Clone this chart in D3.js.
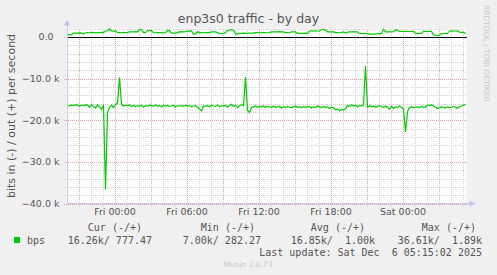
<!DOCTYPE html>
<html>
<head>
<meta charset="utf-8">
<script src="https://cdn.jsdelivr.net/npm/d3@7"></script>
<style>
  body { margin: 0; background: #f0f0f0; }
  svg { display: block; }
</style>
</head>
<body>
<div id="canvas"></div>
<script>
var title = 'enp3s0 traffic - by day'
var yLabel = 'bits in (-) / out (+) per second'
var watermark = 'RRDTOOL / TOBI OETIKER'
var footer = 'Munin 2.0.73'

// samples every 10 minutes, first one Thu 4 Dec 2025 20:05 UTC
var startTime = Date.UTC(2025, 11, 4, 20, 5)
var stepMinutes = 10

// incoming traffic (drawn below zero), in kbit/s
var inK = [
  16.6, 16.5, 16.4, 16.5, 16.3, 16.4, 16.6, 16.4, 16.5, 16.3,
  16.4, 16.9, 16.2, 16.7, 17.1, 16.3, 16.8, 17.4, 16.5, 36.61,
  18.2, 16.9, 16.4, 17.0, 16.3, 15.9, 9.75, 16.2, 16.6, 16.4,
  16.5, 16.3, 16.7, 16.4, 16.8, 16.5, 16.6, 16.4, 16.9, 16.5,
  16.6, 16.4, 16.5, 16.7, 16.3, 16.6, 16.5, 16.8, 16.4, 16.6,
  16.5, 16.7, 16.6, 16.4, 16.9, 16.5, 16.6, 16.5, 16.7, 16.4,
  16.6, 16.5, 16.8, 16.6, 16.5, 16.9, 17.3, 17.8, 16.6, 16.7,
  16.5, 16.8, 16.4, 16.6, 16.7, 16.3, 16.8, 16.5, 16.6, 16.4,
  16.9, 16.5, 16.2, 16.7, 16.4, 17.0, 16.6, 16.3, 16.5, 9.65,
  17.6, 18.2, 17.0, 16.8, 16.6, 16.9, 16.7, 16.8, 16.6, 16.9,
  16.7, 16.8, 17.0, 16.6, 16.9, 16.8, 16.7, 17.1, 16.8, 16.9,
  16.7, 16.9, 17.0, 16.8, 16.6, 16.9, 16.8, 17.0, 16.7, 16.9,
  16.8, 16.7, 17.1, 16.8, 16.9, 16.6, 16.8, 17.0, 16.7, 16.9,
  16.8, 17.2, 16.9, 17.0, 17.5, 17.3, 17.8, 17.4, 17.6, 17.2,
  16.5, 16.7, 16.3, 16.6, 16.4, 16.8, 16.5, 16.6, 16.3, 7.00,
  16.9, 16.5, 16.8, 16.6, 16.9, 16.7, 16.5, 16.8, 17.0, 16.6,
  16.9, 17.4, 16.7, 17.2, 16.8, 17.0, 16.6, 16.9, 17.3, 22.8,
  18.0, 16.9, 16.8, 17.0, 16.9, 16.8, 17.0, 16.7, 16.9, 16.8,
  16.4, 16.5, 16.3, 16.6, 16.9, 17.2, 17.0, 16.8, 16.9, 17.1,
  16.8, 17.0, 16.9, 16.7, 16.9, 17.2, 16.8, 16.6, 16.4, 16.26
]

// outgoing traffic (drawn above zero), in kbit/s
var outK = [
  0.50, 0.52, 0.48, 0.90, 0.92, 0.88, 0.95, 0.90, 0.65, 0.98,
  1.02, 0.98, 1.05, 1.00, 0.96, 1.04, 1.00, 1.06, 1.02, 1.40,
  1.45, 1.89, 1.40, 1.35, 1.45, 1.00, 1.02, 0.98, 1.05, 1.00,
  1.04, 1.20, 1.22, 1.18, 1.25, 1.20, 1.80, 1.75, 1.00, 1.02,
  1.50, 1.48, 1.52, 1.00, 0.98, 1.04, 1.00, 1.02, 0.96, 1.00,
  1.55, 1.50, 0.90, 0.92, 0.88, 1.00, 1.20, 1.25, 1.18, 1.22,
  1.40, 1.38, 1.42, 0.65, 0.68, 1.20, 1.00, 1.02, 0.98, 1.04,
  1.00, 1.02, 1.20, 1.22, 1.18, 1.00, 0.80, 0.78, 0.82, 1.00,
  1.55, 1.60, 1.75, 1.58, 0.65, 0.66, 0.85, 0.82, 0.88, 0.85,
  0.86, 0.90, 0.92, 0.88, 1.00, 1.02, 0.98, 1.00, 1.04, 1.00,
  0.98, 1.00, 1.20, 1.22, 1.18, 1.20, 1.24, 1.20, 1.18, 1.00,
  1.02, 0.98, 1.20, 1.22, 1.18, 0.85, 0.86, 0.84, 0.85, 0.88,
  0.85, 1.40, 1.42, 1.38, 1.45, 1.40, 1.40, 1.70, 1.72, 1.68,
  1.20, 1.22, 1.18, 1.20, 1.00, 1.02, 0.98, 1.00, 1.20, 0.90,
  1.10, 1.20, 1.22, 1.18, 1.20, 1.20, 0.80, 0.78, 0.82, 0.80,
  0.80, 0.65, 0.66, 0.64, 0.65, 0.80, 0.78, 0.82, 1.80, 1.20,
  1.22, 1.18, 1.20, 1.22, 1.70, 1.65, 1.30, 1.32, 1.28, 1.30,
  1.32, 1.28, 1.30, 1.30, 0.80, 0.78, 0.82, 0.80, 1.30, 1.32,
  1.28, 1.30, 1.32, 0.50, 0.40, 0.28, 0.45, 0.80, 0.78, 0.82,
  0.80, 1.40, 1.42, 1.38, 1.40, 1.42, 1.10, 1.08, 1.12, 0.78
]

var yTicks = [0, -10000, -20000, -30000, -40000]
var legendName = 'bps'
var legendHeads = ['Cur (-/+)', 'Min (-/+)', 'Avg (-/+)', 'Max (-/+)']
var legendValues = ['16.26k/ 777.47', '7.00k/ 282.27', '16.85k/  1.00k', '36.61k/  1.89k']
var lastUpdate = 'Last update: Sat Dec  6 05:15:02 2025'

;(function () {
  var W = 497, H = 275
  var green = '#00cc00'
  var textCol = '#555'
  var sans = 'DejaVu Sans, sans-serif'
  var mono = 'DejaVu Sans Mono, monospace'

  var svg = d3.select('#canvas').append('svg')
    .attr('width', W).attr('height', H)
  svg.append('rect').attr('width', W).attr('height', H).attr('fill', '#f0f0f0')

  var x = d3.scaleUtc()
    .domain([new Date(Date.UTC(2025, 11, 4, 20, 0)), new Date(Date.UTC(2025, 11, 6, 5, 20))])
    .range([66.5, 466.5])
  var y = d3.scaleLinear().domain([-40000, 2000]).range([203.5, 28.5])

  var x0 = x.range()[0], x1 = x.range()[1]
  var yTop = y.range()[1], yBot = y.range()[0]

  // plot area
  svg.append('rect').attr('x', x0).attr('y', yTop)
    .attr('width', x1 - x0).attr('height', yBot - yTop).attr('fill', '#fff')

  var grid = svg.append('g').attr('shape-rendering', 'crispEdges')
  var hours = x.ticks(d3.utcHour.every(1))
  var minorY = d3.range(-40000, 2001, 2000).filter(function (v) { return v % 10000 !== 0 })

  // minor grid
  grid.selectAll('.vmin').data(hours.filter(function (d) { return d.getUTCHours() % 3 !== 0 }))
    .enter().append('line')
    .attr('x1', function (d) { return Math.round(x(d)) + 0.5 }).attr('x2', function (d) { return Math.round(x(d)) + 0.5 })
    .attr('y1', yTop).attr('y2', yBot + 3)
    .attr('stroke', '#cfcfcf').attr('stroke-dasharray', '1,1')
  grid.selectAll('.hmin').data(minorY).enter().append('line')
    .attr('x1', x0 - 2).attr('x2', x1)
    .attr('y1', function (d) { return Math.round(y(d)) + 0.5 }).attr('y2', function (d) { return Math.round(y(d)) + 0.5 })
    .attr('stroke', '#cfcfcf').attr('stroke-dasharray', '1,1')

  // major grid
  grid.selectAll('.vmaj').data(hours.filter(function (d) { return d.getUTCHours() % 3 === 0 }))
    .enter().append('line')
    .attr('x1', function (d) { return Math.round(x(d)) + 0.5 }).attr('x2', function (d) { return Math.round(x(d)) + 0.5 })
    .attr('y1', yTop).attr('y2', yBot + 3)
    .attr('stroke', '#e9a0a0').attr('stroke-dasharray', '1,1')
  grid.selectAll('.hmaj').data(yTicks).enter().append('line')
    .attr('x1', x0 - 3).attr('x2', x1)
    .attr('y1', function (d) { return Math.round(y(d)) + 0.5 }).attr('y2', function (d) { return Math.round(y(d)) + 0.5 })
    .attr('stroke', '#e9a0a0').attr('stroke-dasharray', '1,1')

  // axes labels through d3 axes
  var yAxis = d3.axisLeft(y).tickValues(yTicks).tickSize(0).tickPadding(0)
    .tickFormat(function (d) { return d === 0 ? '0.0' : d3.format('.1f')(d / 1000) + ' k' })
  var ya = svg.append('g').attr('transform', 'translate(59.5,0)').call(yAxis)
  ya.select('.domain').remove()
  ya.selectAll('text').attr('font-family', sans).attr('font-size', 9.5).attr('fill', textCol)
    .attr('dx', function (d) { return d === 0 ? -6 : 0 })

  var xAxis = d3.axisBottom(x).ticks(d3.utcHour.every(6)).tickSize(0).tickPadding(0)
    .tickFormat(d3.utcFormat('%a %H:%M'))
  var xa = svg.append('g').attr('transform', 'translate(0,' + (yBot + 5) + ')').call(xAxis)
  xa.select('.domain').remove()
  xa.selectAll('text').attr('font-family', sans).attr('font-size', 9.5).attr('fill', textCol)

  // data lines
  var times = inK.map(function (v, i) { return new Date(startTime + i * stepMinutes * 60000) })
  var line = d3.line()
    .x(function (d, i) { return x(times[i]) })
    .y(function (d) { return y(d) })

  svg.append('line').attr('x1', x0).attr('x2', x1)
    .attr('y1', Math.round(y(0)) + 0.5).attr('y2', Math.round(y(0)) + 0.5)
    .attr('stroke', '#000').attr('shape-rendering', 'crispEdges')

  svg.append('path').datum(inK.map(function (v) { return -v * 1000 }))
    .attr('d', line).attr('fill', 'none').attr('stroke', green).attr('stroke-width', 1.2)
  svg.append('path').datum(outK.map(function (v) { return v * 1000 }))
    .attr('d', line).attr('fill', 'none').attr('stroke', green).attr('stroke-width', 1.2)

  // axis lines with arrows
  var axCol = '#c4c4f0'
  svg.append('line').attr('x1', x0 + 0.5).attr('x2', x0 + 0.5).attr('y1', yTop - 4).attr('y2', yBot + 0.5)
    .attr('stroke', axCol).attr('shape-rendering', 'crispEdges')
  svg.append('line').attr('x1', x0).attr('x2', x1 + 4).attr('y1', yBot).attr('y2', yBot)
    .attr('stroke', axCol).attr('shape-rendering', 'crispEdges')
  svg.append('path').attr('d', 'M' + (x0 - 2.5) + ',' + (yTop - 3) + 'L' + (x0 + 3.5) + ',' + (yTop - 3) + 'L' + (x0 + 0.5) + ',' + (yTop - 9) + 'Z')
    .attr('fill', axCol)
  svg.append('path').attr('d', 'M' + (x1 + 3) + ',' + (yBot - 3) + 'L' + (x1 + 3) + ',' + (yBot + 3) + 'L' + (x1 + 9) + ',' + yBot + 'Z')
    .attr('fill', axCol)

  // title and labels
  svg.append('text').attr('x', W / 2).attr('y', 23).attr('text-anchor', 'middle')
    .attr('font-family', sans).attr('font-size', 12.5).attr('fill', textCol).text(title)
  svg.append('text').attr('transform', 'translate(14.5,' + ((yTop + yBot) / 2) + ') rotate(-90)')
    .attr('text-anchor', 'middle').attr('font-family', sans).attr('font-size', 11)
    .attr('fill', textCol).text(yLabel)
  svg.append('text').attr('transform', 'translate(484,5) rotate(90)')
    .attr('font-family', sans).attr('font-size', 7.5).attr('fill', '#c8c8c8').text(watermark)

  // legend
  svg.append('rect').attr('x', 14).attr('y', 237).attr('width', 6).attr('height', 6).attr('fill', green)
  svg.append('text').attr('x', 27).attr('y', 243.5).attr('font-family', mono).attr('font-size', 10)
    .attr('fill', textCol).text(legendName)
  var headEnds = [142, 255, 365, 476]
  var valueEnds = [152, 261, 375, 482]
  svg.selectAll('.lhead').data(legendHeads).enter().append('text')
    .attr('x', function (d, i) { return headEnds[i] }).attr('y', 230.5)
    .attr('text-anchor', 'end').attr('font-family', mono).attr('font-size', 10)
    .attr('fill', textCol).style('white-space', 'pre').text(function (d) { return d })
  svg.selectAll('.lval').data(legendValues).enter().append('text')
    .attr('x', function (d, i) { return valueEnds[i] }).attr('y', 243.5)
    .attr('text-anchor', 'end').attr('font-family', mono).attr('font-size', 10)
    .attr('fill', textCol).style('white-space', 'pre').text(function (d) { return d })
  svg.append('text').attr('x', 482).attr('y', 255.5).attr('text-anchor', 'end')
    .attr('font-family', mono).attr('font-size', 10).attr('fill', textCol)
    .style('white-space', 'pre').text(lastUpdate)
  svg.append('text').attr('x', 248).attr('y', 266.5).attr('text-anchor', 'middle')
    .attr('font-family', sans).attr('font-size', 7.5).attr('fill', '#c8c8c8').text(footer)
})()
</script>
</body>
</html>
